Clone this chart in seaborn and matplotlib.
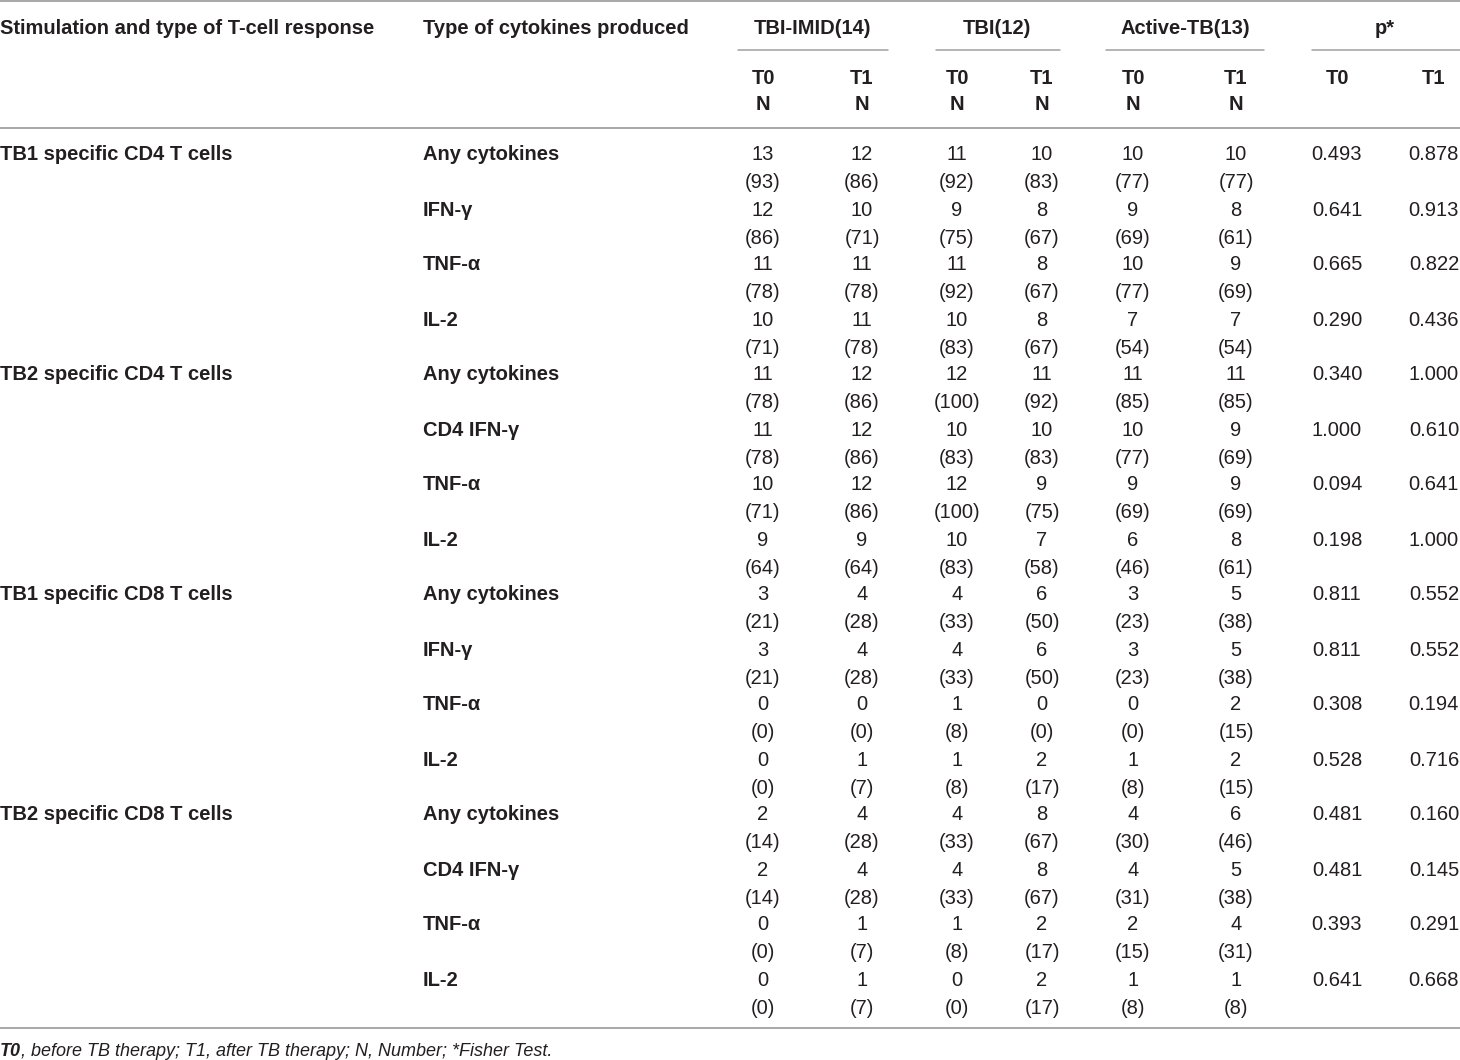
import matplotlib
matplotlib.use("Agg")
import matplotlib.pyplot as plt
import seaborn as sns

# table content
group_labels = ["TB1 specific CD4 T cells", "TB2 specific CD4 T cells",
                "TB1 specific CD8 T cells", "TB2 specific CD8 T cells"]
cytokines = ["Any cytokines", "IFN-γ", "TNF-α", "IL-2",
             "Any cytokines", "CD4 IFN-γ", "TNF-α", "IL-2",
             "Any cytokines", "IFN-γ", "TNF-α", "IL-2",
             "Any cytokines", "CD4 IFN-γ", "TNF-α", "IL-2"]
col_groups = ["TBI-IMID(14)", "TBI(12)", "Active-TB(13)", "p*"]

imid_t0 = [13, 12, 11, 10, 11, 11, 10, 9, 3, 3, 0, 0, 2, 2, 0, 0]
imid_t0_pct = [93, 86, 78, 71, 78, 78, 71, 64, 21, 21, 0, 0, 14, 14, 0, 0]
imid_t1 = [12, 10, 11, 11, 12, 12, 12, 9, 4, 4, 0, 1, 4, 4, 1, 1]
imid_t1_pct = [86, 71, 78, 78, 86, 86, 86, 64, 28, 28, 0, 7, 28, 28, 7, 7]
tbi_t0 = [11, 9, 11, 10, 12, 10, 12, 10, 4, 4, 1, 1, 4, 4, 1, 0]
tbi_t0_pct = [92, 75, 92, 83, 100, 83, 100, 83, 33, 33, 8, 8, 33, 33, 8, 0]
tbi_t1 = [10, 8, 8, 8, 11, 10, 9, 7, 6, 6, 0, 2, 8, 8, 2, 2]
tbi_t1_pct = [83, 67, 67, 67, 92, 83, 75, 58, 50, 50, 0, 17, 67, 67, 17, 17]
atb_t0 = [10, 9, 10, 7, 11, 10, 9, 6, 3, 3, 0, 1, 4, 4, 2, 1]
atb_t0_pct = [77, 69, 77, 54, 85, 77, 69, 46, 23, 23, 0, 8, 30, 31, 15, 8]
atb_t1 = [10, 8, 9, 7, 11, 9, 9, 8, 5, 5, 2, 2, 6, 5, 4, 1]
atb_t1_pct = [77, 61, 69, 54, 85, 69, 69, 61, 38, 38, 15, 15, 46, 38, 31, 8]
p_t0 = ["0.493", "0.641", "0.665", "0.290", "0.340", "1.000", "0.094", "0.198",
        "0.811", "0.811", "0.308", "0.528", "0.481", "0.481", "0.393", "0.641"]
p_t1 = ["0.878", "0.913", "0.822", "0.436", "1.000", "0.610", "0.641", "1.000",
        "0.552", "0.552", "0.194", "0.716", "0.160", "0.145", "0.291", "0.668"]

footnote_rest = ", before TB therapy; T1, after TB therapy; N, Number; *Fisher Test."

sns.set_theme(style="white")
fam = ["Liberation Sans Narrow", "Liberation Sans", "DejaVu Sans"]
plt.rcParams["font.family"] = fam

txt = "#231f20"
rule = "#a0a0a0"
fs = 14.5

fig = plt.figure(figsize=(14.6, 10.6), dpi=100)
ax = fig.add_axes([0, 0, 1, 1])
ax.set_xlim(0, 1460)
ax.set_ylim(1060, 0)
ax.axis("off")

# rules
ax.plot([0, 1460], [1, 1], color=rule, lw=1.3)
ax.plot([0, 1460], [128, 128], color=rule, lw=1.3)
ax.plot([0, 1460], [1028, 1028], color=rule, lw=1.3)
spans = [(738, 888), (936, 1060), (1106, 1264), (1312, 1460)]
grp_x = [813, 997, 1185, 1385]
for (a, b), gx, g in zip(spans, grp_x, col_groups):
    ax.plot([a, b], [50, 50], color=rule, lw=1.1)
    ax.text(gx, 29, g, ha="center", va="center", fontsize=fs, fontweight="bold", color=txt)

ax.text(0, 29, "Stimulation and type of T-cell response", ha="left", va="center",
        fontsize=fs, fontweight="bold", color=txt)
ax.text(423, 29, "Type of cytokines produced", ha="left", va="center",
        fontsize=fs, fontweight="bold", color=txt)

num_x = [763, 862, 957, 1042, 1133, 1236]
for i, x in enumerate(num_x):
    ax.text(x, 78, "T0" if i % 2 == 0 else "T1", ha="center", va="center",
            fontsize=fs, fontweight="bold", color=txt)
    ax.text(x, 105, "N", ha="center", va="center", fontsize=fs, fontweight="bold", color=txt)
ax.text(1337, 78, "T0", ha="center", va="center", fontsize=fs, fontweight="bold", color=txt)
ax.text(1434, 78, "T1", ha="center", va="center", fontsize=fs, fontweight="bold", color=txt)

counts = [imid_t0, imid_t1, tbi_t0, tbi_t1, atb_t0, atb_t1]
pcts = [imid_t0_pct, imid_t1_pct, tbi_t0_pct, tbi_t1_pct, atb_t0_pct, atb_t1_pct]

y0, dy = 155, 55
for r in range(len(cytokines)):
    y = y0 + r * dy
    if r % 4 == 0:
        ax.text(0, y, group_labels[r // 4], ha="left", va="center",
                fontsize=fs, fontweight="bold", color=txt)
    ax.text(423, y, cytokines[r], ha="left", va="center",
            fontsize=fs, fontweight="bold", color=txt)
    for x, c, p in zip(num_x, counts, pcts):
        ax.text(x, y, str(c[r]), ha="center", va="center", fontsize=fs, color=txt)
        ax.text(x, y + 28, f"({p[r]})", ha="center", va="center", fontsize=fs, color=txt)
    ax.text(1337, y, p_t0[r], ha="center", va="center", fontsize=fs, color=txt)
    ax.text(1459, y, p_t1[r], ha="right", va="center", fontsize=fs, color=txt)

t0 = ax.text(0, 1051, "T0", ha="left", va="center", fontsize=13,
             fontweight="bold", style="italic", color=txt)
ax.annotate(footnote_rest, xy=(1, 0.5), xycoords=t0, ha="left", va="center",
            fontsize=13, style="italic", color=txt)

fig.savefig("out.png", dpi=100)
